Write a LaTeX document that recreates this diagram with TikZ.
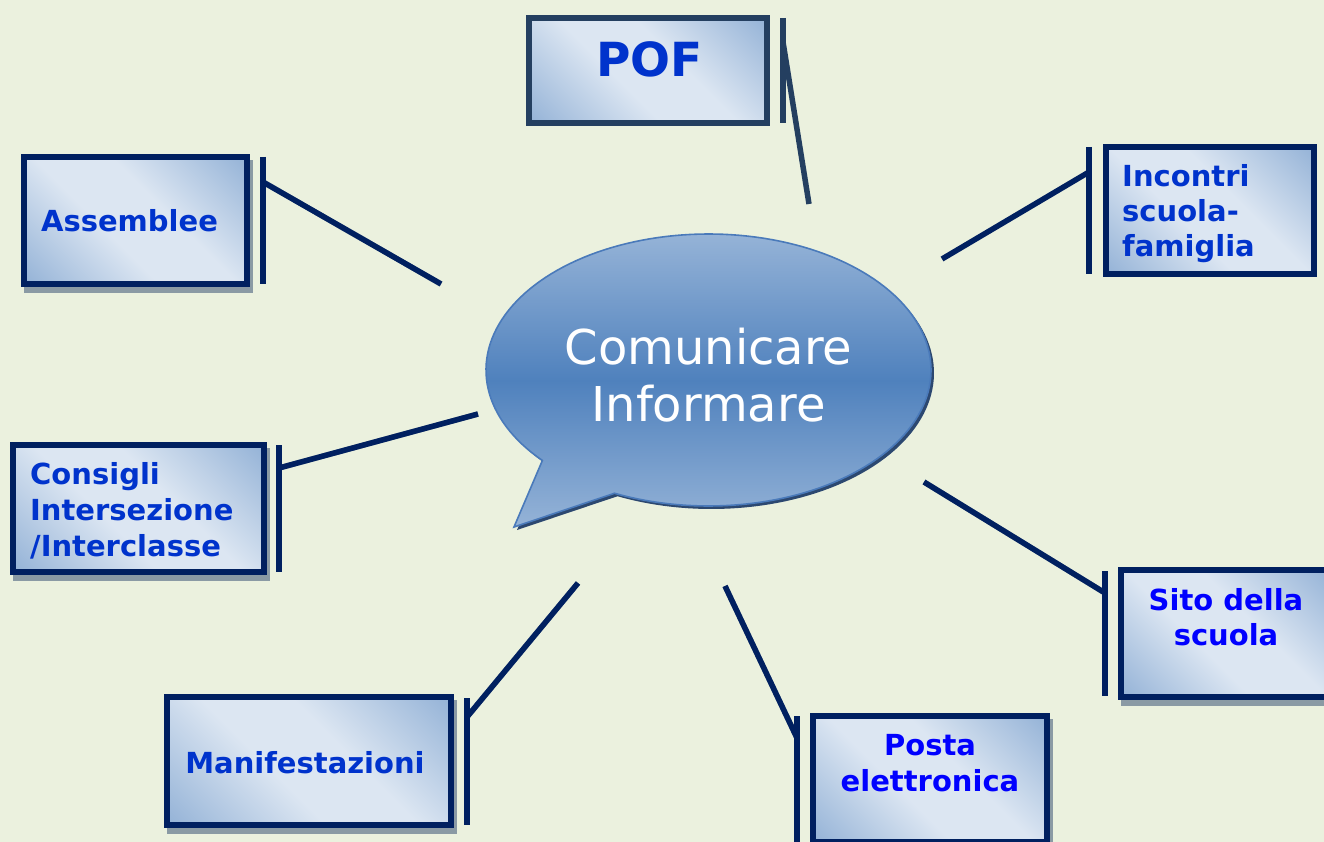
\documentclass[tikz,border=0pt]{standalone}
\usepackage{fontspec}
\setmainfont{DejaVu Sans}
\definecolor{paper}{RGB}{235,241,222}
\definecolor{navy}{RGB}{0,32,96}
\definecolor{slate}{RGB}{36,63,96}
\definecolor{boxdark}{RGB}{149,179,215}
\definecolor{boxlight}{RGB}{220,230,242}
\definecolor{labelblue}{RGB}{0,51,204}
\definecolor{pureblue}{RGB}{0,0,255}
\definecolor{castgrey}{RGB}{138,154,164}
\definecolor{bubhi}{RGB}{149,179,215}
\definecolor{bubmid}{RGB}{79,129,189}
\definecolor{bubedge}{RGB}{74,122,186}
\definecolor{bubcast}{RGB}{44,72,112}
\pgfdeclarehorizontalshading{boxshade}{100bp}{color(0bp)=(boxdark); color(15bp)=(boxdark); color(42bp)=(boxlight); color(58bp)=(boxlight); color(85bp)=(boxdark); color(100bp)=(boxdark)}
\pgfdeclarelayer{backdrop}
\pgfdeclarelayer{cast}
\pgfsetlayers{backdrop,cast,main}
\tikzset{
  box/.style={draw=navy, line width=6pt, shade, shading=boxshade, shading angle=45, inner sep=0pt},
  lbl/.style={font=\bfseries\fontsize{29}{35}\selectfont, text=labelblue, inner sep=0pt, anchor=base},
  lnk/.style={draw=navy, line width=5.5pt},
  lnkcast/.style={draw=castgrey, line width=5.5pt, shift={(3,5)}},
  bubble path/.style={insert path={(514,527) -- plot[domain=-221.7:115, samples=160] ({708.5+222.5*cos(\x)},{370+136*sin(\x)}) -- cycle}}
}
\begin{document}
\begin{tikzpicture}[x=1pt, y=-1pt]
\useasboundingbox (0,0) rectangle (1324,842);
\clip (0,0) rectangle (1324,842);
\begin{pgfonlayer}{backdrop}
  \fill[paper] (0,0) rectangle (1324,842);
\end{pgfonlayer}

% speech bubble in the middle
\fill[bubcast, shift={(3,3)}, bubble path];
\path[draw=bubedge, line width=1.6pt, top color=bubhi, bottom color=bubhi, middle color=bubmid, bubble path];
% multi-line nodes: the base anchor sits on the last line
\node[font=\fontsize{48}{57}\selectfont, text=white, align=center, inner sep=0pt, anchor=base] (centre) at (708.5,421) {Comunicare\\Informare};

% boxes
\node[box, draw=slate, minimum width=238pt, minimum height=105pt] (pof) at (648,70.5) {};
\node[box, minimum width=208pt, minimum height=127pt] (inc) at (1210,210.5) {};
\node[box, minimum width=223pt, minimum height=127pt] (asm) at (135.5,220.5) {};
\node[box, minimum width=251pt, minimum height=127pt] (cons) at (138.5,508.5) {};
\node[box, minimum width=284pt, minimum height=128pt] (man) at (309,761) {};
\node[box, minimum width=234pt, minimum height=126pt] (posta) at (930,779) {};
\node[box, minimum width=210pt, minimum height=127pt] (sito) at (1226,633.5) {};

% box shadows
\begin{pgfonlayer}{cast}
  \foreach \b in {asm,cons,man,posta,sito}
    \fill[castgrey] ([shift={(3,6)}]\b.north west) rectangle ([shift={(3,6)}]\b.south east);
\end{pgfonlayer}

% labels
\node[lbl, font=\bfseries\fontsize{47}{56}\selectfont] (pof-t) at (649.5,77) {POF};
\node[lbl, anchor=base west, align=left] (inc-t) at (1122,256) {Incontri\\scuola-\\famiglia};
\node[lbl] (asm-t) at (129.5,232) {Assemblee};
\node[lbl, anchor=base west, align=left, font=\bfseries\fontsize{29}{36}\selectfont] (cons-t) at (30,556) {Consigli\\Intersezione\\/Interclasse};
\node[lbl] (man-t) at (305,773) {Manifestazioni};
\node[lbl, text=pureblue, align=center, font=\bfseries\fontsize{29}{36}\selectfont] (posta-t) at (930,791) {Posta\\elettronica};
\node[lbl, text=pureblue, align=center] (sito-t) at (1226,645) {Sito della\\scuola};

% callout bars, joints and free ends
\coordinate (pof-a) at (783,18);   \coordinate (pof-b) at (783,123);  \coordinate (pof-j) at (783,42);   \coordinate (pof-e) at (809,204);
\coordinate (inc-a) at (1089,147); \coordinate (inc-b) at (1089,274); \coordinate (inc-j) at (1089,172); \coordinate (inc-e) at (942,259);
\coordinate (asm-a) at (263,157);  \coordinate (asm-b) at (263,284);  \coordinate (asm-j) at (263,182);  \coordinate (asm-e) at (441,284);
\coordinate (cons-a) at (279,445); \coordinate (cons-b) at (279,572); \coordinate (cons-j) at (279,468); \coordinate (cons-e) at (478,414);
\coordinate (man-a) at (467,698);  \coordinate (man-b) at (467,825);  \coordinate (man-j) at (467,717);  \coordinate (man-e) at (578,583);
\coordinate (posta-a) at (797,716);\coordinate (posta-b) at (797,848);\coordinate (posta-j) at (797,738);\coordinate (posta-e) at (725,586);
\coordinate (sito-a) at (1105,571);\coordinate (sito-b) at (1105,696);\coordinate (sito-j) at (1105,593);\coordinate (sito-e) at (924,482);

\begin{pgfonlayer}{cast}
  \foreach \c in {asm,cons,man,posta,sito}{
    \draw[lnkcast] (\c-a) -- (\c-b);
    \draw[lnkcast] (\c-j) -- (\c-e);
  }
\end{pgfonlayer}
\draw[lnk, draw=slate] (pof-a) -- (pof-b);
\draw[lnk, draw=slate] (pof-j) -- (pof-e);
\foreach \c in {inc,asm,cons,man,posta,sito}{
  \draw[lnk] (\c-a) -- (\c-b);
  \draw[lnk] (\c-j) -- (\c-e);
}
\end{tikzpicture}
\end{document}
